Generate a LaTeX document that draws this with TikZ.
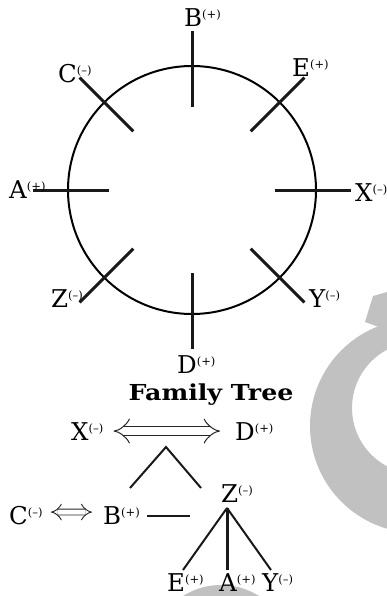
\documentclass[tikz,border=0pt]{standalone}
\usepackage{fontspec}
\setmainfont{DejaVu Serif}
\usetikzlibrary{calc, arrows.meta}
\definecolor{markgray}{RGB}{193,193,193}
\newcommand{\chg}[1]{\raisebox{8pt}{\fontsize{11.5}{11.5}\selectfont(#1)}}

\begin{document}
\begin{tikzpicture}[
    x=1pt, y=1pt,
    person/.style={anchor=base west, inner sep=0pt, font=\fontsize{24.5}{24.5}\selectfont},
    title/.style={anchor=base, inner sep=0pt, font=\fontsize{22}{22}\selectfont\bfseries},
    tick/.style={draw=black!90, line width=3pt},
    link/.style={draw=black!90, line width=2pt},
    couple/.style={draw=black!85, double, double distance=8pt, line width=1pt, {Implies}-{Implies}}
]
    \useasboundingbox (0,0) rectangle (387,-596);

    % watermark
    \begin{scope}
        \clip (0,0) rectangle (387,-596);
        \fill[markgray, even odd rule] (417,-426) circle (107) (418,-408) circle (66);
        \fill[markgray] (365,-322) -- (373,-296) -- (387,-292) -- (387,-330) -- cycle;
        \fill[markgray] (221,-656) circle (71);
    \end{scope}

    % circle of seats
    \coordinate (O) at (192,-190);
    \draw[line width=2pt] (O) circle (124);
    \foreach \name/\ang in {B/90, E/45, X/0, Y/-45, D/-90, Z/-135, A/180, C/135} {
        \coordinate (\name-out) at ($(O)+(\ang:159)$);
        \coordinate (\name-in) at ($(O)+(\ang:83)$);
        \draw[tick] (\name-out) -- (\name-in);
    }

    \node[person] (cB) at (184,-27) {B\chg{+}};
    \node[person] (cC) at (58,-83) {C\chg{–}};
    \node[person] (cE) at (292,-77) {E\chg{+}};
    \node[person] (cA) at (9,-198) {A\chg{+}};
    \node[person] (cX) at (355,-201) {X\chg{–}};
    \node[person] (cZ) at (51,-307) {Z\chg{–}};
    \node[person] (cY) at (309,-307) {Y\chg{–}};
    \node[person] (cD) at (177,-373) {D\chg{+}};

    % family tree
    \node[title] (title) at (211,-400) {\scalebox{1.15}[1]{Family Tree}};

    \node[person] (tX) at (71,-440) {X\chg{–}};
    \node[person] (tD) at (235,-440) {D\chg{+}};
    \node[person] (tC) at (9,-524) {C\chg{–}};
    \node[person] (tB) at (103,-524) {B\chg{+}};
    \node[person] (tZ) at (221,-502) {Z\chg{–}};
    \node[person] (tE) at (167,-591) {E\chg{+}};
    \node[person] (tA) at (219,-591) {A\chg{+}};
    \node[person] (tY) at (262,-591) {Y\chg{–}};

    \draw[couple, shorten <=10pt, shorten >=15pt] (tX.east) -- (tD.west);
    \draw[couple, double distance=5pt, line width=0.9pt, shorten <=8pt, shorten >=11pt] ([yshift=3pt]tC.east) -- ([yshift=3pt]tB.west);

    \coordinate (kids) at (166,-447);
    \coordinate (toB) at (130,-488);
    \coordinate (toZ) at (201,-488);
    \draw[link] (toB) -- (kids) -- (toZ);

    \coordinate (bz-l) at (147,-516);
    \coordinate (bz-r) at (190,-516);
    \draw[tick, line width=2.6pt] (bz-l) -- (bz-r);

    \coordinate (zfoot) at (227,-508);
    \coordinate (toE) at (183,-570);
    \coordinate (toA) at (227,-570);
    \coordinate (toY) at (271,-570);
    \draw[link] (zfoot) -- (toE);
    \draw[link] (zfoot) -- (toY);
    \draw[tick] (zfoot) -- (toA);
\end{tikzpicture}
\end{document}
